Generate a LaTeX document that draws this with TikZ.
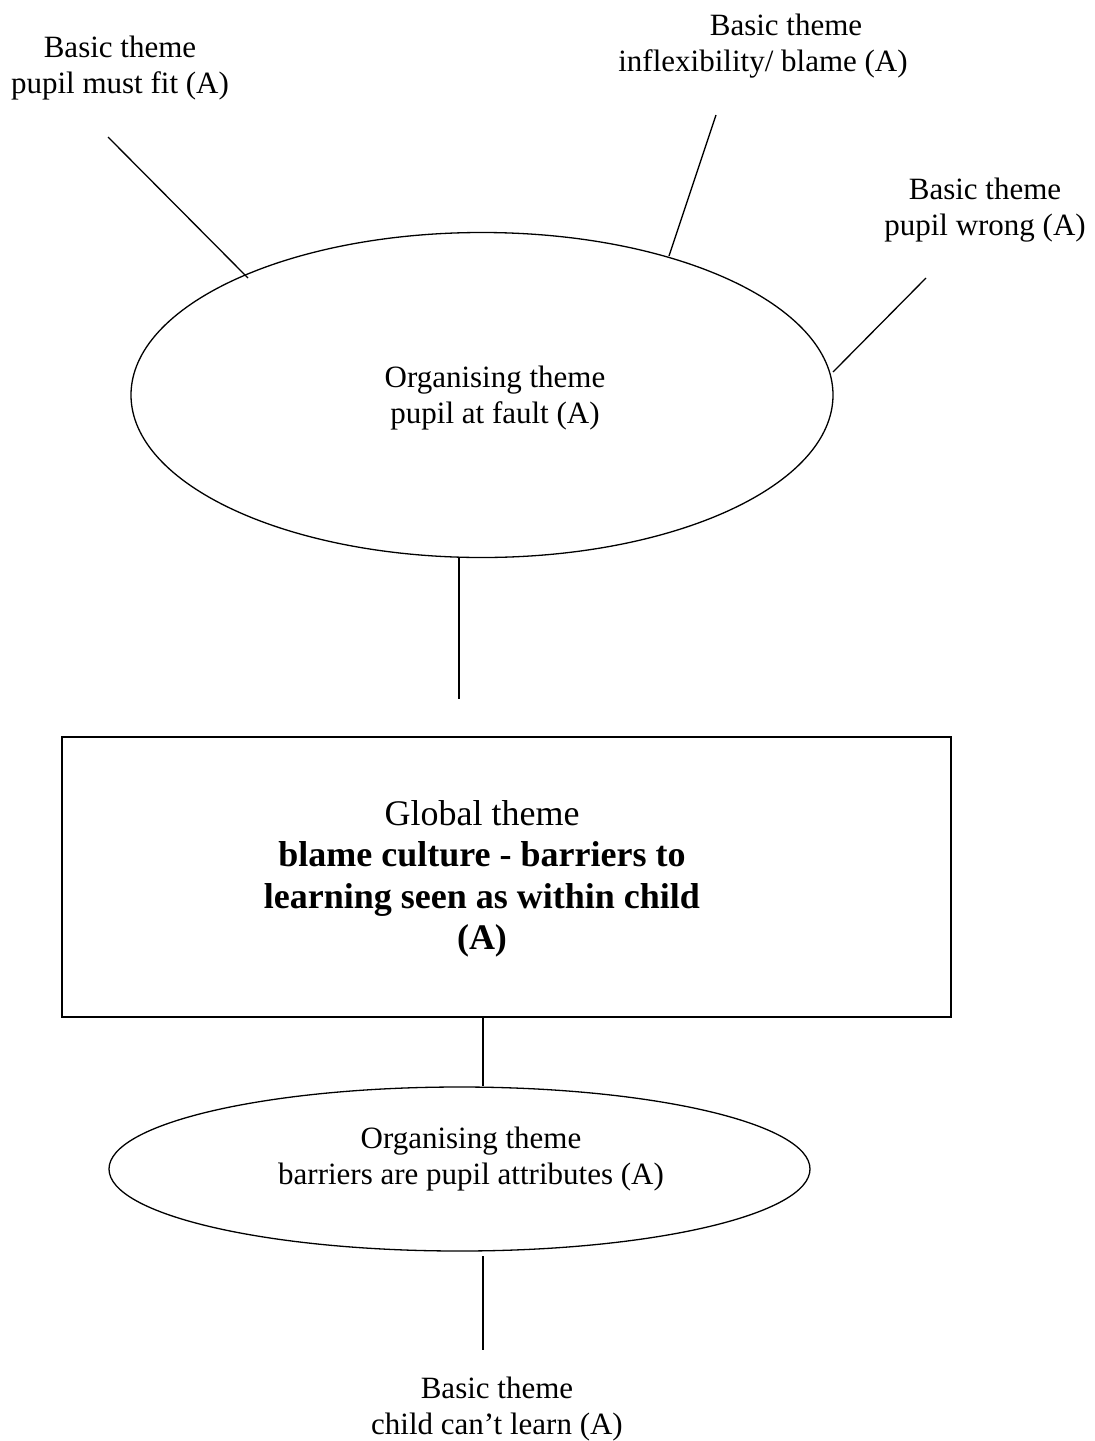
\documentclass[tikz,border=0pt]{standalone}
\usepackage{fontspec}
\setmainfont{Liberation Serif}
\usetikzlibrary{shapes.geometric}
\begin{document}
\begin{tikzpicture}[x=1pt,y=-1pt,
  theme/.style={font=\fontsize{31}{36}\selectfont, align=center, inner sep=0pt, anchor=north},
  globaltext/.style={font=\fontsize{36}{41.5}\selectfont, align=center, inner sep=0pt, anchor=north},
  orgshape/.style={draw, ellipse, inner sep=0pt, line width=1.3pt},
  globshape/.style={draw, rectangle, inner sep=0pt, line width=1.5pt},
  link/.style={line width=1.3pt}]
\useasboundingbox (0,0) rectangle (1095,1441);

% shapes
\node[orgshape, minimum width=702pt, minimum height=325pt] (org1) at (482,395) {};
\node[globshape, minimum width=889pt, minimum height=280pt] (glob) at (506.5,877) {};
\node[orgshape, minimum width=701pt, minimum height=164pt] (org2) at (459.5,1169) {};

% texts
\node[theme] (b1) at (120,36) {Basic theme\\pupil must fit (A)};
\node[theme] (b2) at (763,14) {\hspace*{46pt}Basic theme\\inflexibility/ blame (A)};
\node[theme] (b3) at (985,178) {Basic theme\\pupil wrong (A)};
\node[theme] (o1t) at (495,366) {Organising theme\\pupil at fault (A)};
\node[globaltext] (gt) at (482,800) {Global theme\\\textbf{blame culture - barriers to}\\\textbf{learning seen as within child}\\\textbf{(A)}};
\node[theme] (o2t) at (471,1127) {Organising theme\\barriers are pupil attributes (A)};
\node[theme] (b4) at (497,1377) {Basic theme\\child can’t learn (A)};

% connector ends
\coordinate (l1a) at (108,137);  \coordinate (l1b) at (248,278);
\coordinate (l2a) at (716,115);  \coordinate (l2b) at (669,256);
\coordinate (l3a) at (926,278);  \coordinate (l3b) at (833,372);
\coordinate (l4b) at (459,699);
\coordinate (l5)  at (483,0);
\coordinate (l6a) at (483,1256); \coordinate (l6b) at (483,1350);

% connectors
\draw[link] (l1a) -- (l1b);
\draw[link] (l2a) -- (l2b);
\draw[link] (l3a) -- (l3b);
\draw[link] (org1.south -| l4b) -- (l4b);
\draw[link] (glob.south -| l5) -- (org2.north -| l5);
\draw[link] (l6a) -- (l6b);
\end{tikzpicture}
\end{document}
